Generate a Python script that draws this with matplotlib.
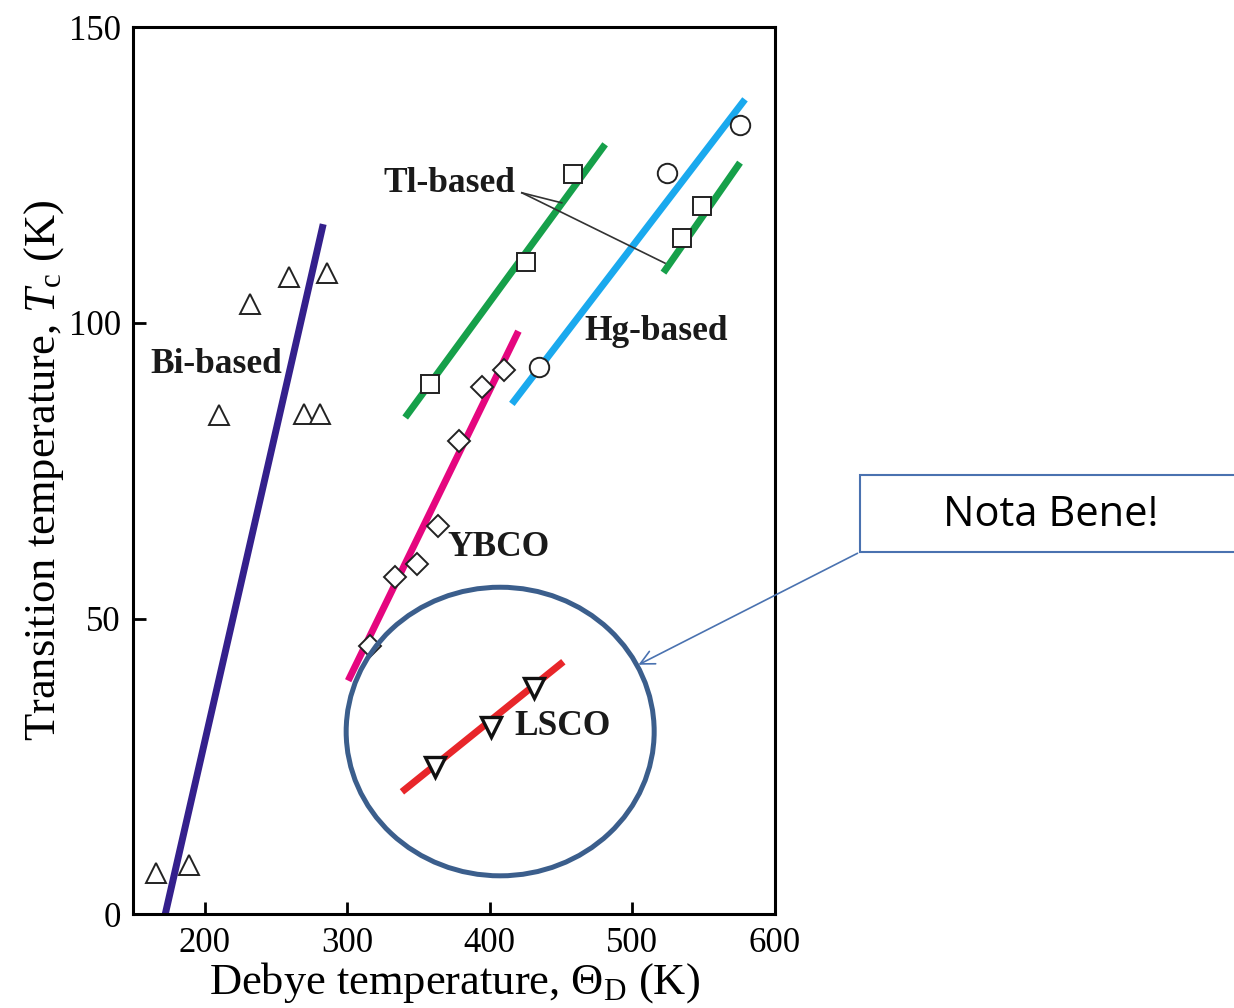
import matplotlib
matplotlib.use("Agg")
import matplotlib.pyplot as plt
from matplotlib.patches import Ellipse, Rectangle

plt.rcParams['font.family'] = ['Liberation Serif', 'DejaVu Serif']
plt.rcParams['mathtext.fontset'] = 'custom'
plt.rcParams['mathtext.rm'] = 'Liberation Serif'
plt.rcParams['mathtext.it'] = 'Liberation Serif:italic'

# data
bi_x = [166, 189, 210, 232, 259, 286, 270, 281]
bi_y = [6.9, 8.3, 84.5, 103.2, 107.8, 108.4, 84.6, 84.6]
bi_line_x = [172.4, 283.2]
bi_line_y = [0, 116.7]

tl_x = [358.2, 425.5, 458.2, 534.6, 549.1]
tl_y = [89.6, 110.3, 125.2, 114.4, 119.8]
tl_line1_x = [340.7, 480.9]
tl_line1_y = [84.0, 130.2]
tl_line2_x = [521.8, 575.5]
tl_line2_y = [108.5, 127.1]

hg_x = [434.6, 524.6, 575.5]
hg_y = [92.6, 125.4, 133.4]
hg_line_x = [415.5, 579.0]
hg_line_y = [86.3, 137.8]

ybco_x = [315.7, 333.7, 348.9, 364.0, 378.5, 394.4, 410.1]
ybco_y = [45.4, 57.1, 59.2, 65.7, 80.1, 89.2, 92.1]
ybco_line_x = [300.7, 420.1]
ybco_line_y = [39.5, 98.6]

lsco_x = [361.7, 401.0, 431.3]
lsco_y = [24.9, 31.6, 38.3]
lsco_line_x = [338.4, 451.6]
lsco_line_y = [20.7, 42.7]

fig = plt.figure(figsize=(12.34, 10.08), dpi=100)
ax = fig.add_axes([0.108, 0.093, 0.52, 0.88])

lw = 5
ax.plot(bi_line_x, bi_line_y, color='#34208c', lw=lw, solid_capstyle='butt')
ax.plot(tl_line1_x, tl_line1_y, color='#16a04a', lw=lw, solid_capstyle='butt')
ax.plot(tl_line2_x, tl_line2_y, color='#16a04a', lw=lw, solid_capstyle='butt')
ax.plot(hg_line_x, hg_line_y, color='#1aa9ee', lw=lw, solid_capstyle='butt')
ax.plot(ybco_line_x, ybco_line_y, color='#e5067f', lw=lw, solid_capstyle='butt')
ax.plot(lsco_line_x, lsco_line_y, color='#e8262a', lw=lw, solid_capstyle='butt')

mk = dict(ls='none', mfc='white', mec='#222222', mew=1.4)
ax.plot(bi_x, bi_y, marker='^', ms=14, **mk)
ax.plot(tl_x, tl_y, marker='s', ms=13, **mk)
ax.plot(hg_x, hg_y, marker='o', ms=14, **mk)
ax.plot(ybco_x, ybco_y, marker='D', ms=11, **mk)
ax.plot(lsco_x, lsco_y, marker='v', ms=14, mfc='white', mec='#111111', mew=2.4, ls='none')

# leader lines for Tl-based label
ax.plot([422.5, 450.5], [122.0, 120.3], color='#333333', lw=1.2)
ax.plot([422.5, 522.9], [122.0, 110.1], color='#333333', lw=1.2)

lab = dict(fontsize=25.5, fontweight='bold', color='#1a1a1a', ha='center', va='center')
ax.text(372, 123.6, 'Tl-based', **lab)
ax.text(517, 98.6, 'Hg-based', **lab)
ax.text(208, 92.9, 'Bi-based', **lab)
ax.text(406, 62.0, 'YBCO', **lab)
ax.text(451, 31.8, 'LSCO', **lab)

# circle around LSCO
ax.add_patch(Ellipse((407.3, 30.9), 216, 48.8, fill=False, ec='#3b5e8c', lw=3.6, zorder=5))

ax.set_xlim(150, 600)
ax.set_ylim(0, 150)
ax.set_xticks([200, 300, 400, 500, 600])
ax.set_yticks([0, 50, 100, 150])
ax.tick_params(direction='in', length=9, width=2, labelsize=25, pad=9)
for s in ax.spines.values():
    s.set_linewidth(2.2)
ax.set_xlabel(r'Debye temperature, $\Theta_\mathrm{D}$ (K)', fontsize=32, labelpad=0)
ax.set_ylabel(r'Transition temperature, $T_\mathrm{c}$ (K)', fontsize=32, labelpad=2)

# Nota Bene callout
fig.patches.append(Rectangle((860 / 1234, 1 - 552 / 1008), 400 / 1234, 77 / 1008,
                             transform=fig.transFigure, fill=True, fc='white',
                             ec='#4a72b0', lw=1.5))
fig.text(1051 / 1234, 1 - 515 / 1008, 'Nota Bene!', family=['Open Sans', 'DejaVu Sans'],
         fontsize=30, ha='center', va='center')
ax.annotate('', xy=(636 / 1234, 1 - 666 / 1008), xycoords='figure fraction',
            xytext=(860 / 1234, 1 - 552 / 1008), textcoords='figure fraction',
            arrowprops=dict(arrowstyle='->', color='#4a72b0', lw=1.2, mutation_scale=25))

fig.savefig('out.png', dpi=100)
